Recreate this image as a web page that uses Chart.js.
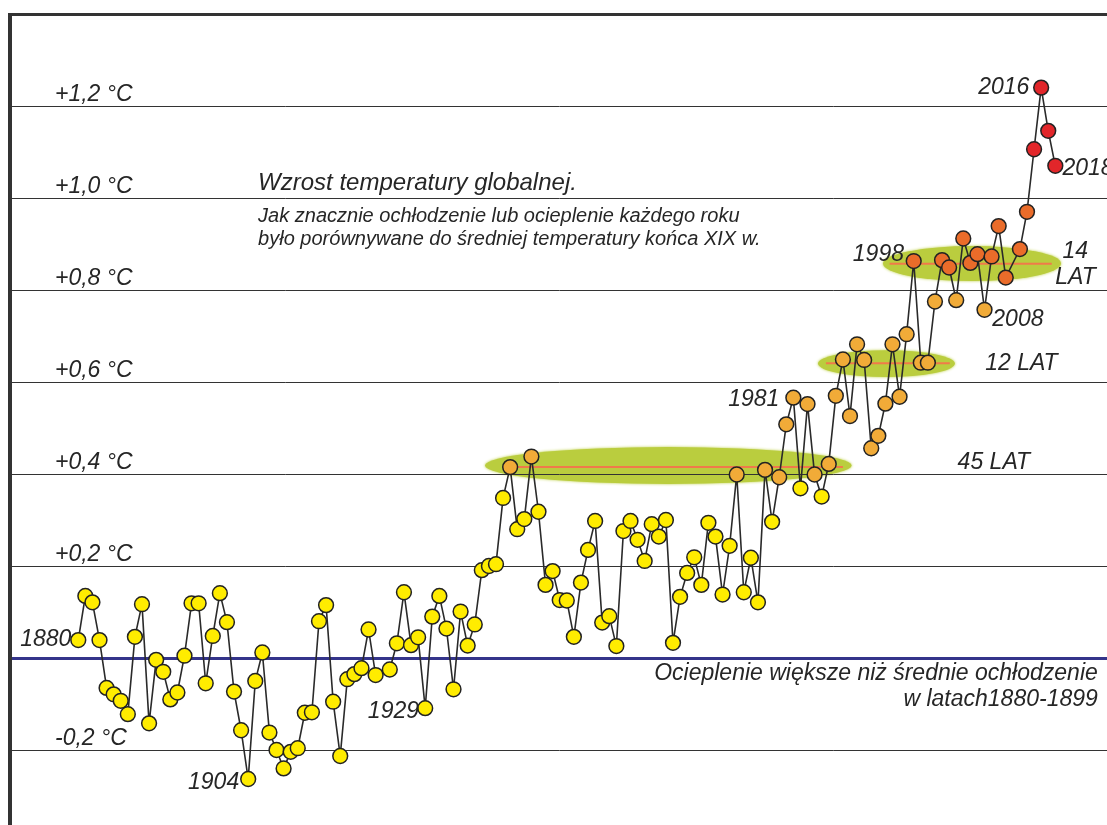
<!DOCTYPE html>
<html><head><meta charset="utf-8">
<script src="https://cdn.jsdelivr.net/npm/chart.js@4.4.0/dist/chart.umd.min.js"></script>
<style>
html,body{margin:0;padding:0;background:#fff;width:1107px;height:825px;overflow:hidden;}
#frame{position:absolute;left:8px;top:13px;width:1099px;height:812px;border-top:3px solid #333;border-left:4px solid #333;}
#c{display:block;}
</style></head><body>
<div id="frame"><canvas id="c" width="1095" height="809"></canvas></div>
<script>
// ---- data ----
const years = [1880,1881,1882,1883,1884,1885,1886,1887,1888,1889,1890,1891,1892,1893,1894,1895,1896,1897,1898,1899,
1900,1901,1902,1903,1904,1905,1906,1907,1908,1909,1910,1911,1912,1913,1914,1915,1916,1917,1918,1919,1920,1921,1922,
1924,1925,1926,1927,1928,1929,1930,1931,1932,1933,1934,1935,1936,1937,1938,1939,1940,1941,1942,1943,1944,1945,1946,1947,1948,1949,
1950,1951,1952,1953,1954,1955,1956,1957,1958,1959,1960,1961,1962,1963,1964,1965,1966,1967,1968,1969,
1970,1971,1972,1973,1974,1975,1976,1977,1978,1979,1980,1981,1982,1983,1984,1985,1986,1987,1988,1989,
1990,1991,1992,1993,1994,1995,1996,1997,1998,1999,2000,2001,2002,2003,2004,2005,2006,2007,2008,2009,2010,2011,
2013,2014,2015,2016,2017,2018];
const anomalies = [0.039,0.135,0.121,0.039,-0.065,-0.079,-0.093,-0.122,0.046,0.117,-0.142,-0.004,-0.030,-0.090,-0.075,0.005,0.119,0.119,-0.055,0.048,
0.141,0.078,-0.073,-0.157,-0.263,-0.050,0.012,-0.162,-0.200,-0.240,-0.204,-0.196,-0.119,-0.118,0.080,0.115,-0.095,-0.213,-0.046,-0.035,-0.022,0.062,-0.037,
-0.025,0.032,0.143,0.028,0.045,-0.109,0.090,0.135,0.064,-0.068,0.101,0.027,0.073,0.191,0.200,0.204,0.348,0.415,0.280,0.302,0.438,0.318,0.159,0.189,0.126,0.125,
0.046,0.164,0.235,0.298,0.077,0.091,0.026,0.276,0.298,0.257,0.211,0.291,0.264,0.300,0.033,0.133,0.185,0.219,0.159,0.294,
0.264,0.138,0.244,0.399,0.143,0.218,0.121,0.409,0.296,0.393,0.508,0.566,0.369,0.552,0.399,0.351,0.422,0.570,0.649,0.526,
0.682,0.648,0.456,0.483,0.553,0.682,0.568,0.704,0.863,0.642,0.642,0.775,0.865,0.849,0.778,0.912,0.859,0.878,0.757,0.873,0.939,0.827,
0.889,0.970,1.106,1.240,1.146,1.070];

const plateauStart = [1941, 1985.6, 1994.6];
const plateauEnd   = [1988, 2003.1, 2017.5];
const plateauLevel = [0.415, 0.641, 0.857];
const plateauLabels = [['45 LAT'], ['12 LAT'], ['14', 'LAT']];

const tickValues = [1.2, 1.0, 0.8, 0.6, 0.4, 0.2, -0.2];
const tickLabels = ['+1,2 °C', '+1,0 °C', '+0,8 °C', '+0,6 °C', '+0,4 °C', '+0,2 °C', '-0,2 °C'];

const yearLabels = ['1880', '1904', '1929', '1981', '1998', '2008', '2016', '2018'];

const titleText = 'Wzrost temperatury globalnej.';
const subtitleLines = ['Jak znacznie ochłodzenie lub ocieplenie każdego roku',
                       'było porównywane do średniej temperatury końca XIX w.'];
const baselineNote = ['Ocieplenie większe niż średnie ochłodzenie', 'w latach1880-1899'];

// ---- layout / style (data units of the scales) ----
const X_MIN = 1870.64, X_MAX = 2025.3, Y_MIN = -0.363, Y_MAX = 1.3957;
const TEXT = '#262626';
const FONT_BIG = 'italic 23px "Liberation Sans", Arial, sans-serif';
const FONT_TITLE = 'italic 24px "Liberation Sans", Arial, sans-serif';
const FONT_SMALL = 'italic 20px "Liberation Sans", Arial, sans-serif';
const yearLabelPos = [[1871.8,0.039],[1895.5,-0.270],[1920.9,-0.117],[1971.8,0.561],[1989.4,0.878],[2009.1,0.735],[2007.1,1.239],[2019.0,1.065]];
const plateauLabelPos = [[2004.2,0.424],[2008.1,0.639],[2019.0,0.883]];
const ellipses = [ // cx, cy, rx(years), ry(value)
  [1963.34, 0.4185, 25.9, 0.040],
  [1994.15, 0.640, 9.67, 0.029],
  [2006.23, 0.8576, 12.57, 0.038]
];

function pointColor(v) {
  if (v >= 1.0) return '#e2262a';
  if (v >= 0.8) return '#ea6c2a';
  if (v >= 0.385) return '#f1ab38';
  return '#ffec00';
}
function isGrid(v) { const r = v / 0.2; return Math.abs(r - Math.round(r)) < 1e-6; }

const mainData = years.map((y, i) => ({x: y, y: anomalies[i]}));
const plateauSets = plateauStart.map((s, i) => ({
  type: 'line',
  data: [{x: s, y: plateauLevel[i]}, {x: plateauEnd[i], y: plateauLevel[i]}],
  borderColor: '#f07a4a', borderWidth: 2, pointRadius: 0, order: 2, fill: false
}));

const decor = {
  id: 'decor',
  beforeDraw(chart) {
    const {ctx, scales: {x, y}} = chart;
    ctx.save();
    ctx.fillStyle = '#bacd3e';
    ctx.shadowColor = '#bacd3e';
    ctx.shadowBlur = 3;
    ellipses.forEach(([cx, cy, rx, ry]) => {
      const px = x.getPixelForValue(cx), py = y.getPixelForValue(cy);
      const prx = Math.abs(x.getPixelForValue(cx + rx) - px);
      const pry = Math.abs(y.getPixelForValue(cy + ry) - py);
      ctx.beginPath();
      ctx.ellipse(px, py, prx, pry, 0, 0, Math.PI * 2);
      ctx.fill();
    });
    ctx.restore();
  },
  afterDraw(chart) {
    const {ctx, scales: {x, y}} = chart;
    ctx.save();
    ctx.fillStyle = TEXT;
    ctx.textBaseline = 'middle';
    ctx.textAlign = 'left';
    ctx.font = FONT_BIG;
    const lx = x.getPixelForValue(1876.71);
    tickValues.forEach((v, i) => {
      ctx.fillText(tickLabels[i], lx, y.getPixelForValue(v + 0.024));
    });
    yearLabels.forEach((t, i) => {
      ctx.fillText(t, x.getPixelForValue(yearLabelPos[i][0]), y.getPixelForValue(yearLabelPos[i][1]));
    });
    plateauLabels.forEach((lines, i) => {
      const [px0, py0] = plateauLabelPos[i];
      lines.forEach((t, j) => {
        const dx = j === 1 ? -1.0 : 0;
        ctx.fillText(t, x.getPixelForValue(px0 + dx), y.getPixelForValue(py0) + j * 26);
      });
    });
    ctx.font = FONT_TITLE;
    ctx.fillText(titleText, x.getPixelForValue(1905.4), y.getPixelForValue(1.033));
    ctx.font = FONT_SMALL;
    ctx.fillText(subtitleLines[0], x.getPixelForValue(1905.4), y.getPixelForValue(0.961));
    ctx.fillText(subtitleLines[1], x.getPixelForValue(1905.4), y.getPixelForValue(0.911));
    ctx.font = FONT_BIG;
    ctx.textAlign = 'right';
    ctx.fillText(baselineNote[0], x.getPixelForValue(2024.0), y.getPixelForValue(-0.033));
    ctx.fillText(baselineNote[1], x.getPixelForValue(2024.0), y.getPixelForValue(-0.091));
    ctx.restore();
  }
};

new Chart(document.getElementById('c'), {
  type: 'line',
  data: {
    datasets: [{
      data: mainData,
      borderColor: '#2a2a2a', borderWidth: 1.6,
      pointRadius: 7.4, pointHoverRadius: 7.4,
      pointBackgroundColor: ctx => pointColor(ctx.parsed ? ctx.parsed.y : 0),
      pointBorderColor: '#222', pointBorderWidth: 1.5,
      tension: 0, order: 0, fill: false
    }, ...plateauSets]
  },
  options: {
    responsive: false, animation: false,
    devicePixelRatio: 1,
    layout: {padding: 0, autoPadding: false},
    plugins: {legend: {display: false}, tooltip: {enabled: false}},
    scales: {
      x: {type: 'linear', min: X_MIN, max: X_MAX, display: false},
      y: {
        type: 'linear', min: Y_MIN, max: Y_MAX,
        ticks: {display: false, stepSize: 0.2},
        border: {display: false},
        grid: {
          drawTicks: false,
          color: c => { const v = c.tick.value; if (Math.abs(v) < 1e-6) return '#34348a'; return isGrid(v) ? '#333333' : 'rgba(0,0,0,0)'; },
          lineWidth: c => Math.abs(c.tick.value) < 1e-6 ? 3 : 1
        }
      }
    }
  },
  plugins: [decor]
});
</script>
</body></html>
